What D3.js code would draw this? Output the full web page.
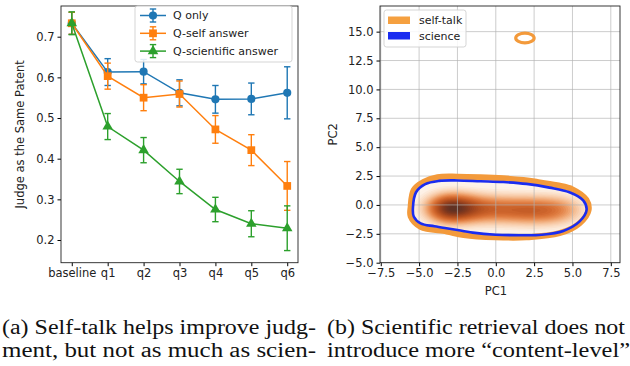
<!DOCTYPE html>
<html lang="en">
<head>
<meta charset="UTF-8">
<title>Judgement and PCA</title>
<script src="https://d3js.org/d3.v7.min.js"></script>
<style>
  body { margin: 0; background: #fff; }
  svg { display: block; }
  .tick text { font-family: "DejaVu Sans", sans-serif; font-size: 11.5px; fill: #222; }
  .axis-label { font-family: "DejaVu Sans", sans-serif; font-size: 11.5px; fill: #222; }
  .legend text { font-family: "DejaVu Sans", sans-serif; font-size: 11px; fill: #222; }
  .caption { font-family: "Liberation Serif", "Times New Roman", serif; font-size: 20.5px; fill: #111; }
</style>
</head>
<body>
<div id="chart"></div>
<script>
// ---- left panel data ----
const steps = ["baseline", "q1", "q2", "q3", "q4", "q5", "q6"];
const yTicksLeft = [0.2, 0.3, 0.4, 0.5, 0.6, 0.7];

const qOnly     = [0.733, 0.613, 0.614, 0.562, 0.546, 0.547, 0.562];
const qOnlyErr  = [0.027, 0.033, 0.030, 0.032, 0.034, 0.039, 0.064];
const qSelf     = [0.733, 0.603, 0.550, 0.559, 0.472, 0.421, 0.333];
const qSelfErr  = [0.027, 0.032, 0.032, 0.032, 0.034, 0.038, 0.060];
const qSci      = [0.733, 0.479, 0.421, 0.344, 0.275, 0.240, 0.229];
const qSciErr   = [0.028, 0.032, 0.031, 0.030, 0.030, 0.032, 0.055];

// ---- right panel data ----
const pcTicksX = [-7.5, -5, -2.5, 0, 2.5, 5, 7.5];
const pcTicksY = [-5, -2.5, 0, 2.5, 5, 7.5, 10, 12.5, 15];

// outer contour of self-talk KDE (PC1, PC2)
const selfTalkOutline = [
  [-5.55, -0.15], [-5.35, 1.3], [-4.7, 2.0], [-3.8, 2.4], [-2.5, 2.45], [-1.0, 2.4],
  [0.5, 2.3], [1.8, 2.15], [2.65, 2.0], [4.0, 1.7], [5.0, 1.35], [5.9, 0.45],
  [6.05, -0.45], [5.45, -1.6], [4.15, -2.45], [2.0, -2.8], [0.0, -2.8],
  [-2.1, -2.6], [-3.2, -2.3], [-4.9, -1.9], [-5.55, -1.0]
];
// outer contour of science KDE
const scienceOutline = [
  [-5.4, -0.2], [-5.2, 1.1], [-4.6, 1.8], [-3.7, 2.08], [-2.5, 2.12], [-1.0, 2.05],
  [0.5, 1.98], [2.0, 1.82], [3.5, 1.5], [4.8, 1.1], [5.7, 0.4], [5.92, -0.45],
  [5.45, -1.45], [4.4, -2.25], [3.0, -2.58], [1.5, -2.62], [0.0, -2.58],
  [-1.5, -2.4], [-2.8, -2.1], [-4.0, -1.85], [-4.9, -1.6], [-5.35, -1.0]
];
// small isolated self-talk mode
const selfTalkIsland = [[1.9, 14.45, 0.6, 0.42]]; // cx, cy, rx, ry

// density components (PC1 centre, PC2 centre, weight) of the shaded KDE
const kdeX = [-3.2, -2.2, -1.0, 0.3, 1.6, 2.8, 3.9, 4.8];
const kdeY = [-0.3, -0.3, -0.35, -0.4, -0.45, -0.5, -0.45, -0.4];
const kdeW = [1.0, 0.55, 0.45, 0.42, 0.45, 0.42, 0.33, 0.2];

const captions = [
  { x: 2, y: 334, len: 314, text: "(a) Self-talk helps improve judg-" },
  { x: 2, y: 357, len: 314, text: "ment, but not as much as scien-" },
  { x: 327, y: 334, len: 298, text: "(b) Scientific retrieval does not" },
  { x: 327, y: 357, len: 303, text: "introduce more \u201ccontent-level\u201d" }
];

const W = 630, H = 366;
const svg = d3.select("#chart").append("svg").attr("width", W).attr("height", H);

// ================= left panel =================
const L = { left: 61, right: 298, top: 6, bottom: 262.7 };
const x = d3.scalePoint().domain(steps).range([L.left, L.right]).padding(0.3);
const y = d3.scaleLinear().domain([0.1442, 0.7755]).range([L.bottom, L.top]);

const gl = svg.append("g");
gl.append("g").attr("transform", `translate(0,${L.bottom})`)
  .call(d3.axisBottom(x).tickSizeOuter(0).tickSize(3.5).tickPadding(3))
  .call(g => g.select(".domain").remove());
gl.append("g").attr("transform", `translate(${L.left},0)`)
  .call(d3.axisLeft(y).tickValues(yTicksLeft).tickFormat(d3.format(".1f")).tickSizeOuter(0).tickSize(3.5).tickPadding(3))
  .call(g => g.select(".domain").remove());
gl.append("rect").attr("x", L.left).attr("y", L.top)
  .attr("width", L.right - L.left).attr("height", L.bottom - L.top)
  .attr("fill", "none").attr("stroke", "#222").attr("stroke-width", 0.9);
gl.append("text").attr("class", "axis-label")
  .attr("transform", `translate(20,${(L.top + L.bottom) / 2}) rotate(-90)`)
  .attr("text-anchor", "middle").attr("dy", "0.35em")
  .text("Judge as the Same Patent");

const series = [
  { name: "Q only", vals: qOnly, errs: qOnlyErr, color: "#1f77b4", marker: "circle" },
  { name: "Q-self answer", vals: qSelf, errs: qSelfErr, color: "#ff7f0e", marker: "square" },
  { name: "Q-scientific answer", vals: qSci, errs: qSciErr, color: "#2ca02c", marker: "triangle" }
];
const markerPath = {
  circle: d3.symbol(d3.symbolCircle, 52)(),
  square: d3.symbol(d3.symbolSquare, 60)(),
  triangle: d3.symbol(d3.symbolTriangle, 48)()
};
const cap = 3.2;

function drawErr(g, cx, y0, y1, color) {
  g.append("line").attr("x1", cx).attr("x2", cx).attr("y1", y0).attr("y2", y1)
    .attr("stroke", color).attr("stroke-width", 1.4);
  [y0, y1].forEach(yy => g.append("line").attr("x1", cx - cap).attr("x2", cx + cap)
    .attr("y1", yy).attr("y2", yy).attr("stroke", color).attr("stroke-width", 1.4));
}

series.forEach(s => {
  const g = gl.append("g");
  steps.forEach((st, i) => drawErr(g, x(st), y(s.vals[i] - s.errs[i]), y(s.vals[i] + s.errs[i]), s.color));
  g.append("path").datum(s.vals)
    .attr("d", d3.line().x((d, i) => x(steps[i])).y(d => y(d)))
    .attr("fill", "none").attr("stroke", s.color).attr("stroke-width", 1.5);
  g.selectAll(".m").data(s.vals).enter().append("path")
    .attr("transform", (d, i) => `translate(${x(steps[i])},${y(d)})`)
    .attr("d", markerPath[s.marker]).attr("fill", s.color);
});

// legend (left)
const lg = gl.append("g").attr("class", "legend");
lg.append("rect").attr("x", 135).attr("y", 6).attr("width", 157).attr("height", 56)
  .attr("rx", 2.5).attr("fill", "#fff").attr("fill-opacity", 0.85)
  .attr("stroke", "#d0d0d0").attr("stroke-width", 0.9);
series.forEach((s, i) => {
  const ly = 15.5 + i * 17.8;
  lg.append("line").attr("x1", 140).attr("x2", 166).attr("y1", ly).attr("y2", ly)
    .attr("stroke", s.color).attr("stroke-width", 1.5);
  drawErr(lg, 153, ly - 6.5, ly + 6.5, s.color);
  lg.append("path").attr("transform", `translate(153,${ly})`).attr("d", markerPath[s.marker]).attr("fill", s.color);
  lg.append("text").attr("x", 173).attr("y", ly).attr("dy", "0.35em").text(s.name);
});

// ================= right panel =================
const R = { left: 380, right: 620, top: 6, bottom: 262.7 };
const px = d3.scaleLinear().domain([-7.55, 8.1]).range([R.left, R.right]);
const py = d3.scaleLinear().domain([-5, 17.22]).range([R.bottom, R.top]);
const gr = svg.append("g");

// shaded density, clipped to the self-talk outline
const outlineLine = d3.line().x(d => px(d[0])).y(d => py(d[1])).curve(d3.curveCatmullRomClosed.alpha(0.5));
gr.append("clipPath").attr("id", "blobClip").append("path").attr("d", outlineLine(selfTalkOutline));

const cell = 1.5;
const nx = Math.ceil((R.right - R.left) / cell), ny = Math.ceil((R.bottom - R.top) / cell);
const grid = new Float64Array(nx * ny);
for (let j = 0; j < ny; j++) {
  for (let i = 0; i < nx; i++) {
    const dx = px.invert(R.left + (i + 0.5) * cell), dy = py.invert(R.top + (j + 0.5) * cell);
    let v = 0;
    for (let k = 0; k < kdeX.length; k++) {
      v += kdeW[k] * Math.exp(-((dx - kdeX[k]) ** 2) / (2 * 1.0 * 1.0) - ((dy - kdeY[k]) ** 2) / (2 * 0.85 * 0.85));
    }
    grid[j * nx + i] = v;
  }
}
const vmax = d3.max(grid);
const thresholds = d3.range(0.04, 1.0, 0.03).map(t => t * vmax);
const densColor = d3.scaleSequential(d3.interpolateRgbBasis(["#fdf1e6", "#f8cba6", "#eb9257", "#d4672c", "#b4501f", "#8a3a1c", "#5e3124"]))
  .domain([thresholds[0], vmax * 0.98]);
const blob = gr.append("g").attr("clip-path", "url(#blobClip)");
blob.append("path").attr("d", outlineLine(selfTalkOutline)).attr("fill", "#fdf3ea");
blob.append("g").attr("transform", `translate(${R.left},${R.top}) scale(${cell})`)
  .selectAll("path").data(d3.contours().size([nx, ny]).thresholds(thresholds)(grid))
  .enter().append("path").attr("d", d3.geoPath()).attr("fill", d => densColor(d.value));

// grid
gr.append("g").selectAll("line").data(pcTicksX).enter().append("line")
  .attr("x1", d => px(d)).attr("x2", d => px(d)).attr("y1", R.top).attr("y2", R.bottom)
  .attr("stroke", "#b0b0b0").attr("stroke-opacity", 0.65).attr("stroke-width", 1);
gr.append("g").selectAll("line").data(pcTicksY).enter().append("line")
  .attr("x1", R.left).attr("x2", R.right).attr("y1", d => py(d)).attr("y2", d => py(d))
  .attr("stroke", "#b0b0b0").attr("stroke-opacity", 0.65).attr("stroke-width", 1);

// contours
gr.append("path").attr("d", outlineLine(selfTalkOutline))
  .attr("fill", "none").attr("stroke", "#f39a3b").attr("stroke-width", 6);
gr.append("path").attr("d", outlineLine(scienceOutline))
  .attr("fill", "none").attr("stroke", "#1a2cf0").attr("stroke-width", 2.6);
gr.selectAll(".island").data(selfTalkIsland).enter().append("ellipse")
  .attr("cx", d => px(d[0])).attr("cy", d => py(d[1]))
  .attr("rx", d => px(d[0] + d[2]) - px(d[0])).attr("ry", d => py(d[1]) - py(d[1] + d[3]))
  .attr("fill", "none").attr("stroke", "#f39a3b").attr("stroke-width", 3.2);

const fmtPC = d => d3.format(".1f")(d).replace("-", "\u2212");
gr.append("g").attr("transform", `translate(0,${R.bottom})`)
  .call(d3.axisBottom(px).tickValues(pcTicksX).tickFormat(fmtPC).tickSize(3.5).tickPadding(3).tickSizeOuter(0))
  .call(g => g.select(".domain").remove());
gr.append("g").attr("transform", `translate(${R.left},0)`)
  .call(d3.axisLeft(py).tickValues(pcTicksY).tickFormat(fmtPC).tickSize(3.5).tickPadding(3).tickSizeOuter(0))
  .call(g => g.select(".domain").remove());
gr.append("rect").attr("x", R.left).attr("y", R.top)
  .attr("width", R.right - R.left).attr("height", R.bottom - R.top)
  .attr("fill", "none").attr("stroke", "#222").attr("stroke-width", 0.9);
gr.append("text").attr("class", "axis-label").attr("x", (R.left + R.right) / 2 - 4).attr("y", 291)
  .attr("text-anchor", "middle").attr("dy", "0.35em").text("PC1");
gr.append("text").attr("class", "axis-label")
  .attr("transform", `translate(333,${(R.top + R.bottom) / 2}) rotate(-90)`)
  .attr("text-anchor", "middle").attr("dy", "0.35em").text("PC2");

// legend (right)
const rg = gr.append("g").attr("class", "legend");
rg.append("rect").attr("x", 384).attr("y", 10).attr("width", 82).attr("height", 37)
  .attr("rx", 2.5).attr("fill", "#fff").attr("fill-opacity", 0.85)
  .attr("stroke", "#d0d0d0").attr("stroke-width", 0.9);
[["self-talk", "#f5a040"], ["science", "#1a2cf0"]].forEach((e, i) => {
  const ly = 20.5 + i * 15.5;
  rg.append("rect").attr("x", 388).attr("y", ly - 4).attr("width", 22).attr("height", 7.5).attr("fill", e[1]);
  rg.append("text").attr("x", 419).attr("y", ly).attr("dy", "0.35em").text(e[0]);
});

// captions
svg.selectAll(".caption").data(captions).enter().append("text")
  .attr("class", "caption").attr("x", d => d.x).attr("y", d => d.y)
  .attr("textLength", d => d.len).attr("lengthAdjust", "spacingAndGlyphs")
  .text(d => d.text);
</script>
</body>
</html>
